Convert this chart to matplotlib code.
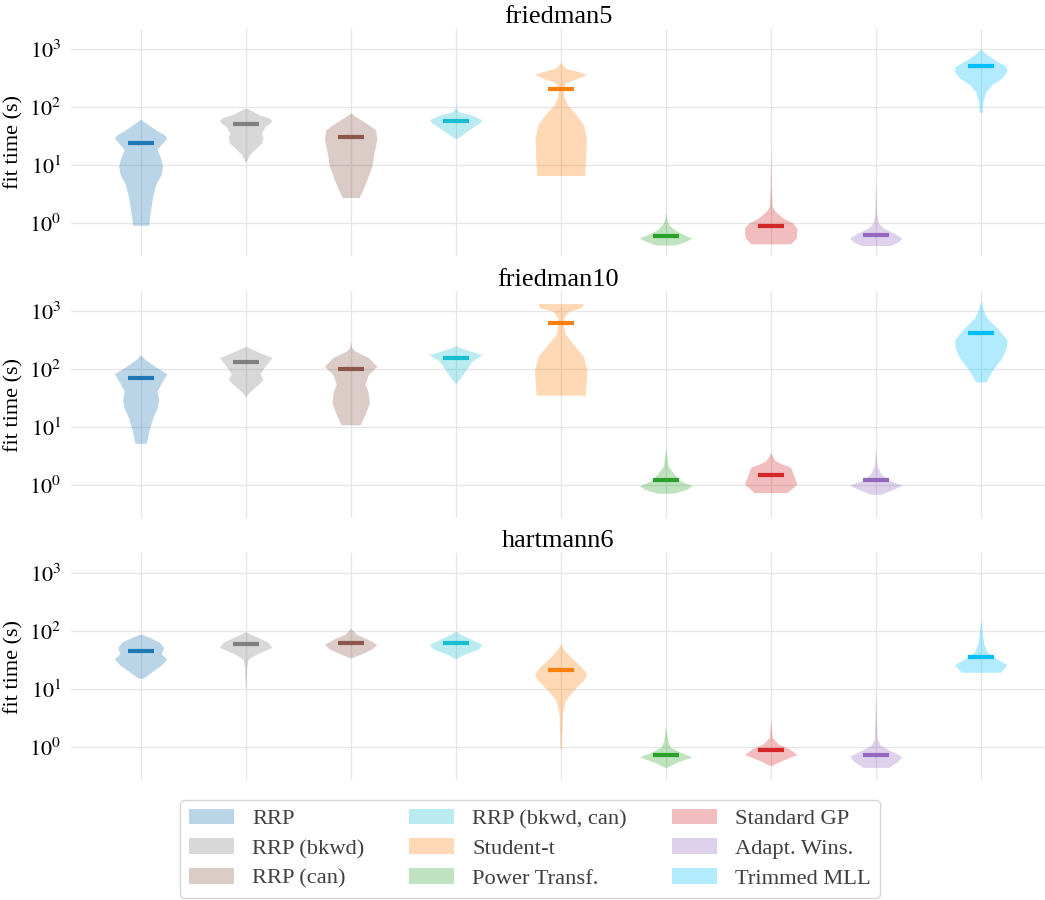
import numpy as np
import matplotlib
matplotlib.use("Agg")
import matplotlib.pyplot as plt
from matplotlib.patches import Patch

plt.rcParams["font.family"] = "serif"
plt.rcParams["font.serif"] = ["Liberation Serif", "DejaVu Serif"]
plt.rcParams["mathtext.fontset"] = "stix"

methods = ["RRP", "RRP (bkwd)", "RRP (can)", "RRP (bkwd, can)", "Student-t",
           "Power Transf.", "Standard GP", "Adapt. Wins.", "Trimmed MLL"]
colors = ["#1f77b4", "#7f7f7f", "#8c564b", "#17becf", "#ff7f0e",
          "#2ca02c", "#d62728", "#9467bd", "#00bfff"]
datasets = ["friedman5", "friedman10", "hartmann6"]

# violin outlines: log10(fit time) levels and relative half-widths
f5_levels = [
    [-0.05, 0.19, 0.42, 0.65, 0.82, 0.97, 1.11, 1.26, 1.34, 1.40, 1.46, 1.52, 1.57, 1.69, 1.78],
    [1.05, 1.17, 1.28, 1.37, 1.46, 1.54, 1.66, 1.71, 1.76, 1.81, 1.86, 1.95, 1.97],
    [0.43, 0.59, 0.77, 1.00, 1.20, 1.43, 1.60, 1.72, 1.83, 1.89],
    [1.44, 1.51, 1.63, 1.72, 1.77, 1.85, 1.91, 1.97, 2.06],
    [0.81, 1.11, 1.46, 1.69, 1.86, 2.03, 2.18, 2.31, 2.41, 2.47, 2.55, 2.60, 2.66, 2.70, 2.76],
    [-0.39, -0.33, -0.27, -0.21, -0.13, -0.04, 0.05, 0.18],
    [-0.37, -0.27, -0.10, -0.01, 0.07, 0.19, 0.28, 0.54, 1.26],
    [-0.40, -0.33, -0.27, -0.18, -0.10, -0.01, 0.13, 0.71],
    [1.90, 2.09, 2.26, 2.38, 2.49, 2.61, 2.69, 2.81, 2.90, 2.99],
]
f5_widths = [
    [24, 30, 36, 46, 62, 67, 61, 50, 62, 72, 80, 70, 54, 22, 0],
    [2, 12, 32, 49, 53, 48, 60, 74, 80, 70, 40, 10, 0],
    [26, 39, 52, 66, 71, 80, 76, 45, 14, 0],
    [0, 19, 49, 74, 80, 50, 9, 2, 0],
    [73, 76, 78, 69, 47, 20, 9, 7, 15, 45, 80, 55, 15, 8, 0],
    [28, 60, 80, 55, 27, 10, 3, 0],
    [60, 78, 80, 67, 39, 14, 4, 2, 0],
    [44, 70, 80, 54, 24, 8, 3, 0],
    [4, 7, 16, 34, 64, 79, 77, 40, 17, 0],
]
f5_medians = [1.38, 1.70, 1.49, 1.76, 2.31, -0.22, -0.06, -0.21, 2.70]

f10_levels = [
    [0.71, 0.92, 1.15, 1.33, 1.47, 1.61, 1.76, 1.91, 2.04, 2.16, 2.24],
    [1.51, 1.58, 1.73, 1.81, 1.91, 2.04, 2.19, 2.27, 2.35, 2.38],
    [1.03, 1.21, 1.41, 1.58, 1.73, 1.90, 2.04, 2.19, 2.30, 2.36, 2.46],
    [1.74, 1.81, 1.93, 2.04, 2.13, 2.20, 2.24, 2.31, 2.37, 2.40],
    [1.54, 1.96, 2.21, 2.42, 2.59, 2.73, 2.87, 2.99, 3.05, 3.12],
    [-0.15, -0.08, -0.02, 0.06, 0.18, 0.32, 0.63],
    [-0.14, 0.01, 0.12, 0.24, 0.30, 0.35, 0.41, 0.49, 0.55],
    [-0.17, -0.08, -0.01, 0.06, 0.18, 0.32, 0.61],
    [1.77, 1.96, 2.19, 2.36, 2.50, 2.70, 2.87, 2.99, 3.16],
]
f10_widths = [
    [17, 25, 37, 51, 55, 50, 64, 80, 43, 13, 0],
    [0, 9, 39, 53, 44, 59, 80, 44, 14, 0],
    [29, 44, 57, 54, 44, 54, 80, 54, 14, 3, 0],
    [0, 11, 26, 39, 50, 70, 80, 39, 9, 0],
    [75, 80, 69, 39, 14, 9, 9, 24, 64, 69],
    [25, 65, 79, 45, 25, 7, 0],
    [50, 79, 71, 64, 59, 35, 14, 5, 0],
    [14, 54, 79, 44, 16, 4, 0],
    [15, 34, 64, 77, 79, 49, 19, 9, 0],
]
f10_medians = [1.85, 2.12, 2.00, 2.19, 2.80, 0.08, 0.18, 0.09, 2.63]

h6_levels = [
    [1.18, 1.28, 1.40, 1.51, 1.60, 1.71, 1.80, 1.89, 1.94],
    [1.02, 1.37, 1.51, 1.61, 1.71, 1.80, 1.89, 1.98],
    [1.53, 1.60, 1.68, 1.76, 1.86, 1.93, 2.04],
    [1.51, 1.60, 1.68, 1.76, 1.86, 1.94, 1.99],
    [-0.04, 0.56, 0.79, 0.97, 1.14, 1.25, 1.37, 1.54, 1.66, 1.77],
    [-0.36, -0.27, -0.18, -0.10, -0.01, 0.10, 0.35],
    [-0.33, -0.24, -0.14, -0.04, 0.05, 0.16, 0.47],
    [-0.36, -0.27, -0.17, -0.07, 0.02, 0.13, 0.92],
    [1.28, 1.41, 1.51, 1.63, 1.77, 1.94, 2.18],
]
h6_widths = [
    [8, 32, 62, 80, 63, 70, 57, 24, 0],
    [1, 3, 8, 39, 80, 68, 34, 0],
    [2, 34, 64, 80, 49, 19, 0],
    [0, 29, 69, 80, 44, 14, 0],
    [2, 5, 14, 39, 69, 80, 64, 31, 11, 0],
    [3, 34, 79, 44, 14, 6, 0],
    [2, 34, 79, 56, 21, 4, 0],
    [39, 64, 80, 44, 14, 4, 0],
    [59, 79, 49, 19, 9, 5, 0],
]
h6_medians = [1.66, 1.78, 1.80, 1.79, 1.33, -0.14, -0.06, -0.13, 1.55]

all_levels = [f5_levels, f10_levels, h6_levels]
all_widths = [f5_widths, f10_widths, h6_widths]
all_medians = [f5_medians, f10_medians, h6_medians]

pos = np.arange(len(methods))
fig = plt.figure(figsize=(10.45, 9), dpi=100)
bottoms = [0.7156, 0.4244, 0.1333]

for name, levels, widths, medians, b in zip(datasets, all_levels, all_widths, all_medians, bottoms):
    ax = fig.add_axes([0.068, b, 0.932, 0.2522])
    stats = []
    for lv, w, m in zip(levels, widths, medians):
        stats.append(dict(coords=np.array(lv), vals=np.array(w, float), mean=m,
                          median=m, min=lv[0], max=lv[-1]))
    parts = ax.violin(stats, positions=pos, widths=0.5, showmeans=False,
                      showextrema=False, showmedians=False)
    for body, c in zip(parts["bodies"], colors):
        body.set_facecolor(c)
        body.set_edgecolor("none")
        body.set_alpha(0.3)
    ax.hlines(medians, pos - 0.125, pos + 0.125, colors=colors, lw=3, zorder=3)

    ax.set_xlim(-0.667, 8.607)
    ax.set_ylim(-0.57, 3.345)
    ax.set_xticks(pos)
    ax.set_xticklabels([])
    ax.set_yticks([0, 1, 2, 3])
    ax.set_yticklabels([r"$10^{%d}$" % k for k in range(4)])
    ax.tick_params(length=0)
    ax.tick_params(axis="y", pad=7, labelsize=16)
    for s in ax.spines.values():
        s.set_visible(False)
    ax.grid(True, color="#e6e6e6", lw=1)
    ax.set_axisbelow(True)
    ax.set_title(name, fontsize=19, pad=4)
    ax.set_ylabel("fit time (s)", fontsize=16)

handles = [Patch(facecolor=c, alpha=0.3, edgecolor="none") for c in colors]
fig.legend(handles, methods, loc="lower center", bbox_to_anchor=(0.507, 0.0),
           ncol=3, fontsize=16.2, borderaxespad=0.1, labelspacing=0.4,
           labelcolor="#404040")

fig.savefig("out.png", dpi=100)
